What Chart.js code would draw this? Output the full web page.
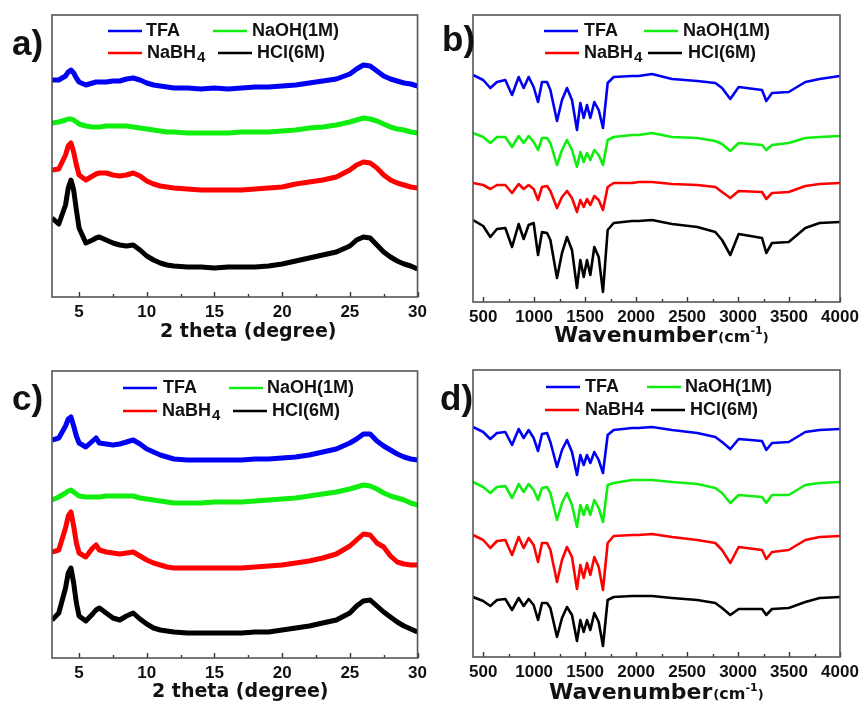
<!DOCTYPE html>
<html>
<head>
<meta charset="utf-8">
<script src="https://cdn.jsdelivr.net/npm/chart.js@4.4.1/dist/chart.umd.min.js"></script>
<style>
    html, body { margin: 0; padding: 0; background: #fff; }
    #wrap { position: relative; width: 864px; height: 708px; }
    canvas { position: absolute; }
</style>
</head>
<body>
<div id="wrap">
    <canvas id="pa" width="432" height="354" style="left:0;top:0"></canvas>
    <canvas id="pb" width="432" height="354" style="left:432px;top:0"></canvas>
    <canvas id="pc" width="432" height="354" style="left:0;top:354px"></canvas>
    <canvas id="pd" width="432" height="354" style="left:432px;top:354px"></canvas>
</div>
<script>
const series_names = ['TFA', 'NaOH(1M)', 'NaBH4', 'HCl(6M)'];
const series_colors = ['#0000f5', '#10ee10', '#ff0000', '#000000'];

// XRD, 2 theta (degree), stacked intensities (a.u.)
const theta = [3, 3.5, 4, 4.2, 4.4, 4.6, 4.8, 5, 5.5, 6, 6.25, 6.5, 7, 7.5, 8, 8.5, 9, 9.5, 10, 10.5, 11, 11.5, 12,
    13, 14, 15, 16, 17, 18, 19, 20, 21, 22, 23, 24, 25, 25.5, 26, 26.5, 27, 27.5, 28, 28.5, 29, 29.5, 30];

const xrd_tfa_a = [217, 217, 221, 225, 227, 224, 219, 215, 212, 214, 215, 215, 215, 216, 216, 218, 219, 217, 214, 212, 211, 210, 209,
    209, 208, 209, 208, 209, 210, 210, 211, 212, 214, 216, 218, 223, 228, 232, 231, 226, 221, 218, 216, 214, 213, 211];
const xrd_naoh_a = [174, 175, 177, 178, 178, 177, 175, 173, 171, 170, 170, 170, 171, 171, 171, 171, 170, 169, 168, 167, 166, 165, 165,
    164, 164, 164, 164, 165, 165, 165, 166, 167, 169, 170, 172, 175, 177, 179, 178, 176, 173, 170, 168, 167, 165, 164];
const xrd_nabh4_a = [127, 128, 142, 151, 154, 145, 132, 122, 117, 121, 123, 124, 124, 122, 121, 122, 124, 121, 116, 113, 111, 110, 109,
    108, 107, 107, 107, 107, 108, 109, 110, 113, 115, 117, 120, 127, 132, 135, 134, 129, 122, 117, 114, 112, 110, 109];
const xrd_hcl_a = [79, 73, 92, 109, 117, 107, 87, 69, 54, 57, 59, 60, 57, 54, 52, 51, 52, 47, 41, 37, 34, 32, 31,
    30, 30, 29, 30, 30, 30, 31, 33, 36, 39, 42, 45, 51, 57, 60, 59, 52, 45, 40, 36, 33, 31, 28];

const xrd_tfa_c = [218, 220, 232, 239, 241, 232, 222, 215, 211, 217, 220, 215, 214, 213, 214, 216, 218, 214, 209, 206, 203, 201, 199,
    198, 198, 198, 198, 198, 199, 199, 200, 201, 203, 206, 209, 215, 219, 224, 224, 217, 212, 208, 204, 201, 199, 198];
const xrd_naoh_c = [158, 161, 165, 167, 168, 166, 164, 162, 161, 161, 161, 161, 162, 162, 162, 162, 162, 160, 159, 158, 157, 156, 155,
    155, 155, 156, 156, 156, 157, 158, 159, 160, 162, 164, 166, 169, 171, 173, 172, 169, 165, 162, 160, 158, 155, 153];
const xrd_nabh4_c = [106, 108, 130, 142, 146, 132, 115, 105, 101, 110, 113, 108, 106, 105, 104, 105, 106, 102, 98, 95, 93, 91, 90,
    90, 90, 90, 90, 90, 91, 92, 93, 95, 97, 100, 104, 112, 118, 124, 123, 115, 111, 102, 96, 94, 93, 93];
const xrd_hcl_c = [38, 45, 70, 85, 90, 75, 55, 42, 37, 44, 48, 50, 45, 40, 38, 42, 45, 39, 34, 30, 28, 27, 26,
    25, 25, 25, 25, 25, 26, 26, 28, 30, 32, 35, 38, 45, 52, 57, 58, 52, 46, 41, 36, 32, 29, 26];

// FTIR, wavenumber (cm-1), stacked transmittance (a.u.)
const wavenumber = [400, 500, 570, 635, 717, 783, 848, 897, 946, 995, 1038, 1077, 1126, 1159, 1224, 1273, 1322, 1371, 1420, 1453,
    1486, 1518, 1551, 1590, 1633, 1675, 1721, 1780, 1960, 2025, 2156, 2352, 2600, 2777, 2843, 2924, 3006, 3235, 3277, 3333,
    3497, 3660, 3800, 4000];

const ir_tfa_b = [227, 222, 214, 220, 222, 207, 225, 214, 225, 215, 200, 220, 220, 212, 181, 202, 214, 202, 172, 199,
    184, 197, 184, 200, 192, 174, 219, 225, 226, 226, 228, 223, 221, 219, 214, 203, 215, 212, 201, 209, 210, 220, 223, 226];
const ir_naoh_b = [169, 165, 159, 165, 165, 155, 166, 159, 166, 160, 152, 164, 164, 159, 137, 152, 162, 152, 135, 150,
    140, 149, 142, 152, 147, 137, 162, 165, 167, 167, 169, 165, 164, 161, 158, 151, 159, 157, 152, 157, 159, 164, 165, 166];
const ir_nabh4_b = [119, 117, 113, 117, 117, 109, 118, 113, 117, 113, 102, 115, 116, 111, 94, 105, 111, 104, 90, 102,
    95, 103, 97, 106, 102, 92, 115, 119, 119, 120, 120, 118, 117, 115, 110, 104, 111, 110, 103, 109, 110, 116, 118, 119];
const ir_hcl_b = [82, 76, 65, 73, 74, 55, 78, 63, 77, 79, 47, 70, 69, 62, 24, 49, 65, 52, 14, 42,
    25, 42, 27, 55, 45, 10, 72, 79, 81, 81, 82, 78, 75, 70, 62, 47, 68, 64, 49, 59, 60, 74, 79, 80];

const ir_tfa_d = [230, 225, 218, 224, 225, 212, 228, 219, 227, 219, 206, 223, 224, 215, 190, 207, 217, 205, 182, 202,
    192, 202, 194, 205, 197, 184, 222, 227, 229, 229, 230, 227, 224, 220, 215, 208, 218, 216, 207, 214, 215, 225, 227, 228];
const ir_naoh_d = [175, 170, 164, 170, 171, 159, 173, 165, 173, 167, 157, 169, 170, 164, 137, 154, 164, 152, 130, 152,
    142, 152, 142, 157, 149, 135, 172, 174, 177, 177, 177, 175, 173, 169, 164, 154, 162, 160, 154, 162, 162, 172, 174, 175];
const ir_nabh4_d = [122, 117, 109, 116, 117, 102, 120, 109, 119, 112, 95, 114, 114, 107, 75, 97, 110, 100, 68, 92,
    79, 94, 82, 100, 90, 67, 114, 121, 122, 122, 123, 120, 117, 114, 107, 94, 110, 107, 98, 105, 107, 117, 120, 121];
const ir_hcl_d = [60, 56, 51, 57, 58, 47, 59, 51, 58, 52, 37, 54, 54, 49, 20, 39, 50, 42, 16, 37,
    25, 37, 27, 44, 35, 11, 57, 60, 61, 61, 61, 59, 57, 54, 49, 42, 48, 48, 42, 48, 49, 55, 59, 60];


const SANS = '"Liberation Sans", Arial, sans-serif';
const WIDE = '"DejaVu Sans", sans-serif';

// frame, inward ticks, panel letter, 2x2 legend, axis title
const decor = {
    id: 'decor',
    afterDraw(chart, args, o) {
        const ctx = chart.ctx;
        const area = chart.chartArea;
        const sx = chart.scales.x;
        ctx.save();

        ctx.strokeStyle = '#333';
        ctx.lineWidth = 1.4;
        for (const t of sx.ticks) {
            const px = Math.round(sx.getPixelForValue(t.value)) + 0.5;
            const len = t.value % o.major === 0 ? 5 : 3;
            ctx.beginPath();
            ctx.moveTo(px, area.bottom);
            ctx.lineTo(px, area.bottom - len);
            ctx.stroke();
        }

        ctx.strokeStyle = '#555';
        ctx.lineWidth = 1.6;
        ctx.strokeRect(area.left, area.top, area.right - area.left, area.bottom - area.top);

        ctx.fillStyle = '#111';
        ctx.textAlign = 'left';
        ctx.textBaseline = 'alphabetic';
        ctx.font = 'bold 35px ' + SANS;
        ctx.fillText(o.letter[0], o.letter[1], o.letter[2]);

        // legend
        chart.data.datasets.forEach((ds, i) => {
            const [x0, y, tx] = o.legend[i];
            ctx.strokeStyle = ds.borderColor;
            ctx.lineWidth = 2.4;
            ctx.beginPath();
            ctx.moveTo(x0, y);
            ctx.lineTo(x0 + 34, y);
            ctx.stroke();
            ctx.fillStyle = '#111';
            ctx.textBaseline = 'middle';
            ctx.font = 'bold 18px ' + SANS;
            if (o.subscript && ds.label === 'NaBH4') {
                ctx.fillText('NaBH', tx, y);
                const w = ctx.measureText('NaBH').width;
                ctx.font = 'bold 15px ' + SANS;
                ctx.fillText('4', tx + w + 1, y + 5);
            } else {
                ctx.fillText(ds.label, tx, y);
            }
        });

        // axis title
        ctx.textBaseline = 'alphabetic';
        ctx.fillStyle = '#111';
        const t = o.title;
        ctx.font = 'bold ' + t.size + 'px ' + WIDE;
        ctx.fillText(t.text, t.x, t.y);
        if (t.unit) {
            let x = t.x + ctx.measureText(t.text).width + 1;
            const parts = [['(', 13, 0], ['cm', 16, 0], ['-1', 11, -8], [')', 13, 0]];
            for (const [s, size, dy] of parts) {
                ctx.font = 'bold ' + size + 'px ' + WIDE;
                ctx.fillText(s, x, t.y + dy);
                x += ctx.measureText(s).width;
            }
        }
        ctx.restore();
    }
};

function make_chart(canvas_id, xs, series, cfg) {
    const ctx = document.getElementById(canvas_id).getContext('2d');
    return new Chart(ctx, {
        type: 'line',
        data: {
            datasets: series.map((ys, i) => ({
                label: series_names[i],
                data: xs.map((x, j) => ({ x: x, y: ys[j] })),
                borderColor: series_colors[i],
                borderWidth: cfg.line_width,
                borderJoinStyle: 'round',
                pointRadius: 0,
                tension: 0
            }))
        },
        options: {
            responsive: false,
            animation: false,
            devicePixelRatio: 1,
            layout: { padding: cfg.padding },
            plugins: {
                legend: { display: false },
                tooltip: { enabled: false },
                decor: cfg.decor
            },
            scales: {
                x: {
                    type: 'linear',
                    min: cfg.xmin,
                    max: cfg.xmax,
                    afterFit: (scale) => { scale.height = cfg.axis_height; },
                    grid: { display: false, drawTicks: false },
                    border: { display: false },
                    ticks: {
                        stepSize: cfg.minor,
                        includeBounds: false,
                        autoSkip: false,
                        maxRotation: 0,
                        padding: 5,
                        color: '#111',
                        font: { family: SANS, size: 17, weight: 'bold' },
                        callback: (v) => v % cfg.decor.major === 0 ? String(v) : ''
                    }
                },
                y: { display: false, min: 0, max: cfg.ymax }
            }
        },
        plugins: [decor]
    });
}

make_chart('pa', theta, [xrd_tfa_a, xrd_naoh_a, xrd_nabh4_a, xrd_hcl_a], {
    line_width: 5, xmin: 3, xmax: 30, minor: 2.5, ymax: 282, axis_height: 57,
    padding: { left: 52, right: 14, top: 15, bottom: 0 },
    decor: {
        major: 5, letter: ['a)', 12, 55], subscript: true,
        legend: [[108, 31, 146], [213, 31, 252], [108, 53, 147], [218, 53, 257]],
        title: { text: '2 theta (degree)', size: 19, x: 160, y: 337 }
    }
});

make_chart('pb', wavenumber, [ir_tfa_b, ir_naoh_b, ir_nabh4_b, ir_hcl_b], {
    line_width: 2.6, xmin: 400, xmax: 4000, minor: 250, ymax: 287, axis_height: 52,
    padding: { left: 41, right: 24, top: 15, bottom: 0 },
    decor: {
        major: 500, letter: ['b)', 10, 51], subscript: true,
        legend: [[112, 31, 152], [212, 31, 251], [113, 53, 152], [216, 53, 256]],
        title: { text: 'Wavenumber', size: 22, x: 122, y: 342, unit: true }
    }
});

make_chart('pc', theta, [xrd_tfa_c, xrd_naoh_c, xrd_nabh4_c, xrd_hcl_c], {
    line_width: 5, xmin: 3, xmax: 30, minor: 2.5, ymax: 287, axis_height: 50,
    padding: { left: 52, right: 14, top: 17, bottom: 0 },
    decor: {
        major: 5, letter: ['c)', 12, 56], subscript: true,
        legend: [[123, 34, 163], [229, 34, 267], [123, 57, 162], [233, 57, 272]],
        title: { text: '2 theta (degree)', size: 19, x: 152, y: 343 }
    }
});

make_chart('pd', wavenumber, [ir_tfa_d, ir_naoh_d, ir_nabh4_d, ir_hcl_d], {
    line_width: 2.6, xmin: 400, xmax: 4000, minor: 250, ymax: 287, axis_height: 51,
    padding: { left: 41, right: 24, top: 16, bottom: 0 },
    decor: {
        major: 500, letter: ['d)', 8, 56], subscript: false,
        legend: [[114, 33, 153], [215, 33, 253], [113, 56, 153], [219, 56, 258]],
        title: { text: 'Wavenumber', size: 22, x: 117, y: 345, unit: true }
    }
});
</script>
</body>
</html>
